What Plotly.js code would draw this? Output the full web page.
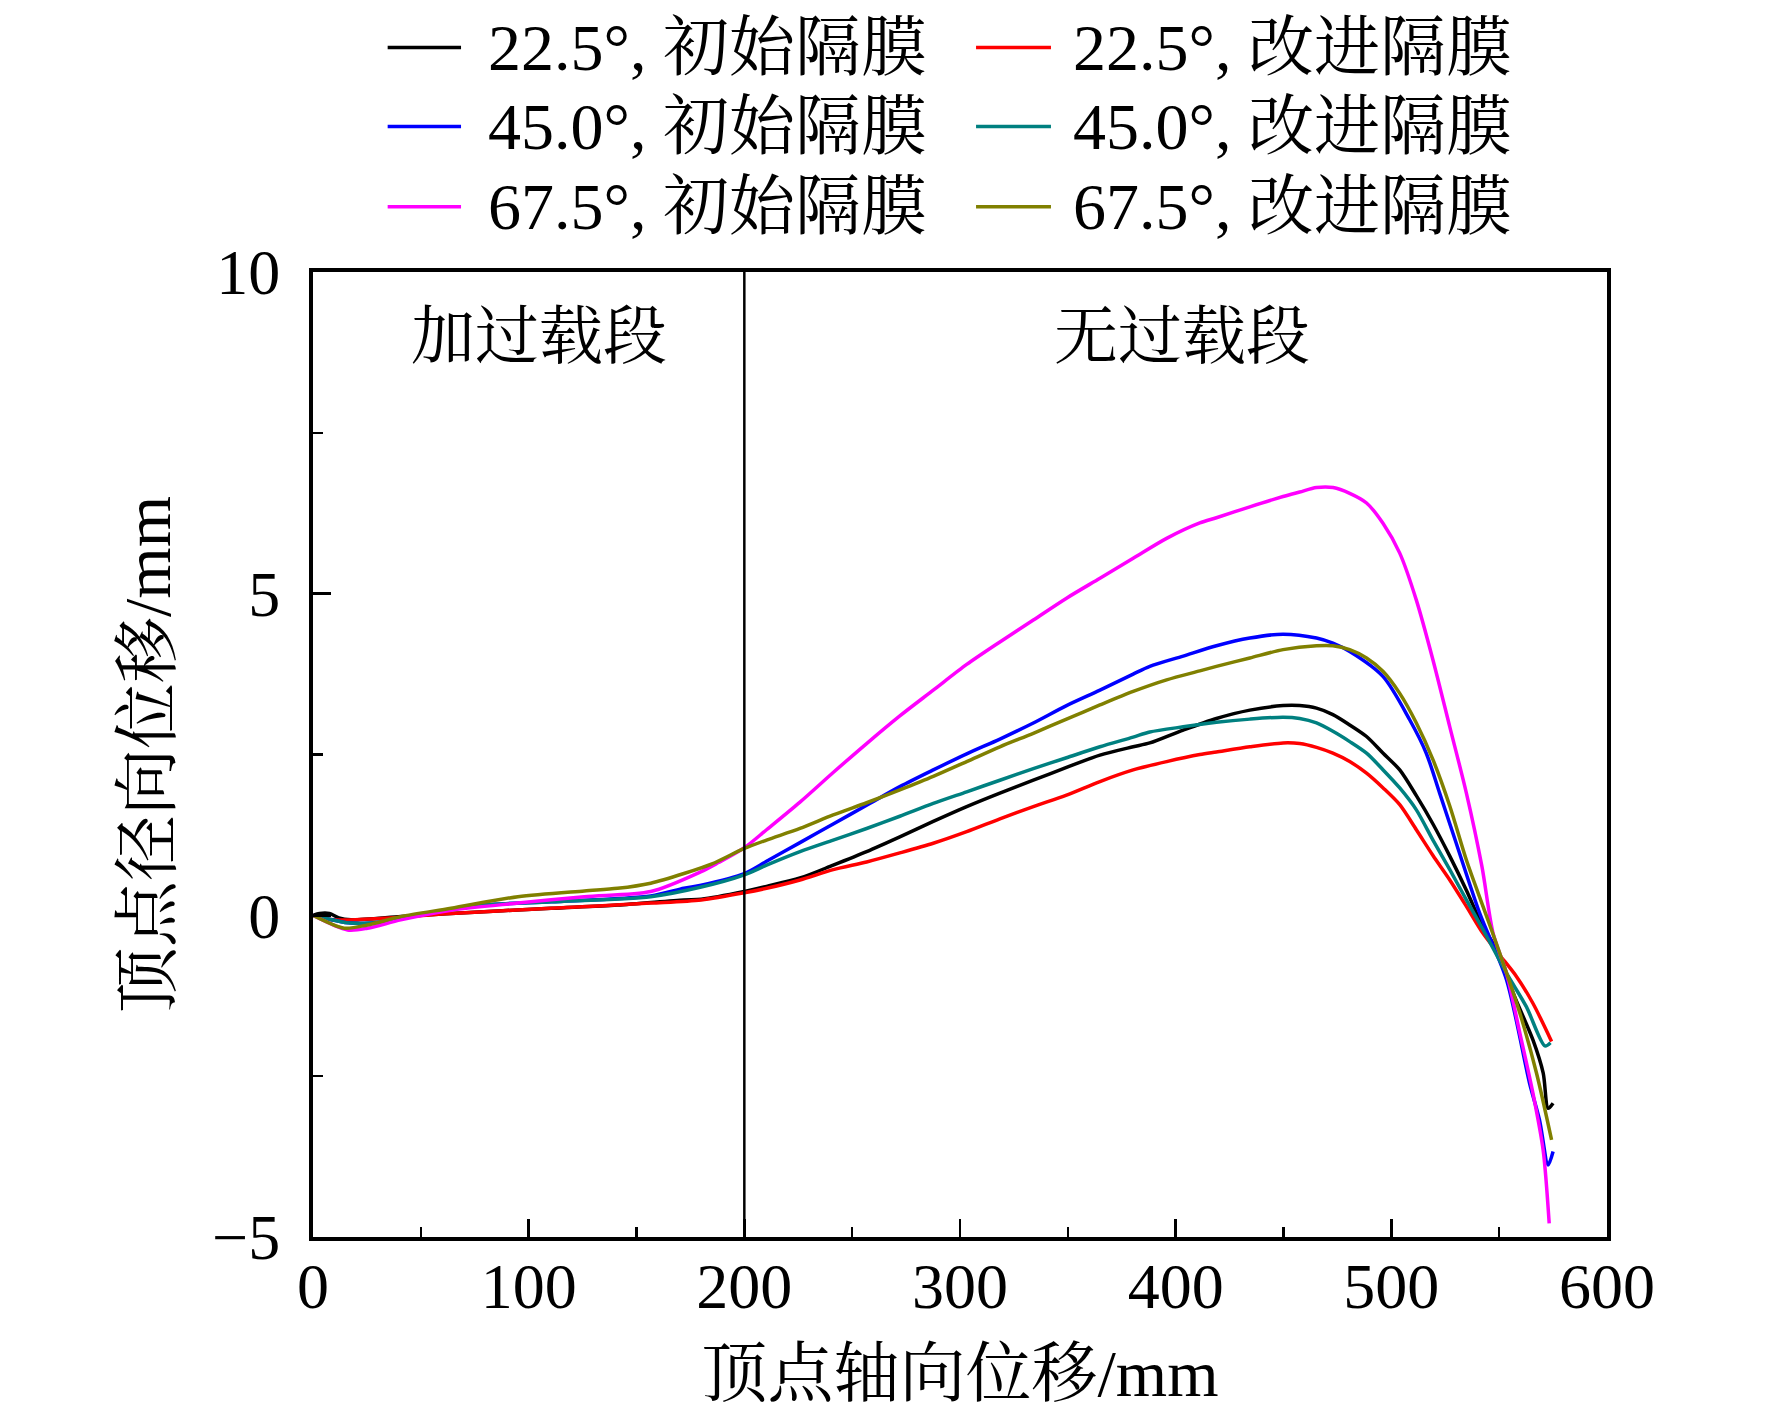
<!DOCTYPE html>
<html>
<head>
<meta charset="utf-8">
<script src="https://cdn.plot.ly/plotly-3.0.1.min.js"></script>
<style>html,body{margin:0;padding:0;background:#fff;}#chart{width:1772px;height:1420px;}</style>
</head>
<body>
<div id="chart"></div>
<script>
// ---- data ----
const seriesNames = ['22.5°, 初始隔膜','22.5°, 改进隔膜','45.0°, 初始隔膜','45.0°, 改进隔膜','67.5°, 初始隔膜','67.5°, 改进隔膜'];
const seriesColors = ['#000000','#ff0000','#0000ff','#008080','#ff00ff','#808000'];

const x_225_init = [0,3,7.6,12,17.6,40.7,64,110.4,141.2,172,180,200,210.3,225.8,241.2,256.7,272.1,287.6,303.1,318.5,334,349.4,364.9,380.3,388,403.5,418.9,434.4,449.8,457.5,465.3,472.9,480.7,488.5,496.2,503.9,511.6,519.3,527.1,534.8,542.5,550,556.5,565.7,570.4,572.7,575];
const y_225_init = [0,0.03,0.03,-0.04,-0.07,-0.02,0.03,0.11,0.16,0.24,0.25,0.37,0.45,0.58,0.78,0.99,1.22,1.46,1.69,1.90,2.10,2.30,2.49,2.62,2.68,2.88,3.06,3.19,3.26,3.26,3.22,3.12,2.96,2.78,2.52,2.26,1.86,1.42,0.92,0.39,-0.18,-0.6,-1.21,-1.94,-2.45,-3.00,-2.92];

const x_225_impr = [0,9.9,33,64,110.4,156.6,180,200,210.3,225.8,241.2,256.7,272.1,287.6,303.1,318.5,334,349.4,364.9,380.3,395.8,411.2,418.9,434.4,449.8,457.5,465.3,472.9,480.7,488.5,496.2,503.9,511.6,519.3,527.1,534.8,542.5,550.3,558,565.7,574.3];
const y_225_impr = [0,-0.07,-0.045,0.03,0.11,0.19,0.24,0.35,0.42,0.55,0.71,0.83,0.97,1.12,1.30,1.50,1.69,1.87,2.08,2.26,2.39,2.50,2.54,2.62,2.68,2.67,2.61,2.52,2.39,2.21,1.98,1.72,1.33,0.93,0.55,0.14,-0.28,-0.62,-0.95,-1.37,-1.96];

const x_450_init = [0,17.6,33,48.4,79.5,110.4,156.6,172,180,200,210.3,225.8,241.2,256.7,272.1,287.6,303.1,318.5,334,349.4,364.9,380.3,388,403.5,418.9,434.4,449.8,465.3,472.9,480.7,496.2,508.5,516.2,522.4,530.1,541,553.4,564.1,568.7,572.7,575];
const y_450_init = [0,-0.12,-0.10,0.006,0.16,0.21,0.30,0.42,0.47,0.65,0.84,1.13,1.42,1.71,2.00,2.26,2.51,2.74,2.99,3.26,3.50,3.75,3.87,4.03,4.19,4.31,4.37,4.31,4.23,4.10,3.71,3.04,2.52,1.90,1.12,0.03,-1.00,-2.61,-3.18,-3.88,-3.67];

const x_450_impr = [0,17.6,33,48.4,79.5,110.4,156.6,180,200,210.3,225.8,241.2,256.7,272.1,287.6,303.1,318.5,334,349.4,364.9,380.3,388,403.5,418.9,434.4,449.8,457.5,465.3,472.9,480.7,488.5,496.2,503.9,511.6,519.3,527.1,534.8,542.5,553.4,562.6,571.2,573.8];
const y_450_impr = [0,-0.12,-0.10,0.006,0.16,0.21,0.29,0.44,0.63,0.78,0.99,1.17,1.35,1.54,1.74,1.92,2.10,2.28,2.45,2.62,2.77,2.85,2.93,3.00,3.05,3.08,3.06,2.99,2.86,2.70,2.52,2.26,1.98,1.64,1.17,0.71,0.24,-0.22,-0.90,-1.42,-2.03,-1.98];

const x_675_init = [0,16,25.3,40.7,64,95,125.8,156.6,180,188,200,210.3,225.8,241.2,256.7,272.1,287.6,303.1,318.5,334,349.4,364.9,380.3,395.8,411.2,418.9,434.4,449.8,457.5,465.3,473,480.7,488.5,496.2,503.9,511.6,519.3,527.1,534.8,542,547.2,553.4,559.6,565.7,570.4,573.2];
const y_675_init = [0,-0.227,-0.20,-0.07,0.08,0.19,0.29,0.37,0.68,0.82,1.05,1.33,1.76,2.22,2.67,3.10,3.50,3.90,4.25,4.59,4.93,5.24,5.55,5.86,6.10,6.18,6.35,6.51,6.58,6.65,6.65,6.56,6.41,6.09,5.63,4.90,3.97,2.93,1.90,0.76,-0.28,-0.90,-1.83,-2.77,-3.65,-4.79];

const x_675_impr = [0,14.5,25.3,40.7,64,95,125.8,141.2,156.6,172,185,200,210.3,225.8,241.2,256.7,272.1,287.6,303.1,318.5,334,349.4,364.9,380.3,395.8,411.2,418.9,434.4,449.8,465.3,472.9,480.7,488.5,496.2,503.9,511.6,519.3,527.1,534.8,542.5,550.3,559.6,567.3,574.3];
const y_675_impr = [0,-0.20,-0.149,-0.02,0.11,0.29,0.38,0.42,0.50,0.65,0.80,1.04,1.17,1.35,1.56,1.75,1.95,2.16,2.39,2.62,2.83,3.05,3.27,3.48,3.66,3.80,3.87,4.00,4.13,4.19,4.19,4.13,4.00,3.79,3.45,2.99,2.42,1.70,0.86,0.14,-0.59,-1.52,-2.45,-3.49];

const xTitle = '顶点轴向位移/mm';
const yTitle = '顶点径向位移/mm';
const regionLabels = ['加过载段','无过载段'];
const regionLabelX = [105, 403];
const regionLabelY = 9;
const boundaryX = 200;

// ---- drawing ----
const FONT = '"Liberation Serif", "Times New Roman", "Noto Serif CJK SC", "Noto Sans CJK SC", serif';
const xs = [x_225_init, x_225_impr, x_450_init, x_450_impr, x_675_init, x_675_impr];
const ys = [y_225_init, y_225_impr, y_450_init, y_450_impr, y_675_init, y_675_impr];

const traces = xs.map((x, i) => ({
  type: 'scatter', mode: 'lines', x: x, y: ys[i], name: seriesNames[i],
  line: {color: seriesColors[i], width: 3.5, shape: 'spline', smoothing: 0.8},
  showlegend: false, hoverinfo: 'skip'
}));

// custom legend (2 columns x 3 rows) built from the names/colors arrays
const legCols = [{lx0: 0.0577, lx1: 0.1144, tx: 0.1337}, {lx0: 0.5124, lx1: 0.5703, tx: 0.5858}];
const legRows = [1.2326, 1.1507, 1.0676];
const shapes = [{
  type: 'line', xref: 'x', yref: 'paper', x0: boundaryX, x1: boundaryX, y0: 0, y1: 1,
  line: {color: '#000', width: 2.5}
}];
const annotations = [];
seriesNames.forEach((nm, i) => {
  const c = legCols[i % 2], r = legRows[Math.floor(i / 2)];
  shapes.push({type: 'line', xref: 'paper', yref: 'paper', x0: c.lx0, x1: c.lx1, y0: r, y1: r,
    line: {color: seriesColors[i], width: 3.5}});
  annotations.push({xref: 'paper', yref: 'paper', x: c.tx, y: r, text: nm, showarrow: false,
    xanchor: 'left', yanchor: 'middle', font: {family: FONT, size: 66, color: '#000'}});
});
regionLabels.forEach((t, i) => {
  annotations.push({xref: 'x', yref: 'y', x: regionLabelX[i], y: regionLabelY, text: t, showarrow: false,
    xanchor: 'center', yanchor: 'middle', font: {family: FONT, size: 64, color: '#000'}});
});

const axisCommon = {
  showline: true, linewidth: 4, linecolor: '#000', mirror: true,
  showgrid: false, zeroline: false,
  ticks: 'inside', ticklen: 18, tickwidth: 2.5, tickcolor: '#000',
  tickfont: {family: FONT, size: 64, color: '#000'},
  automargin: false
};

const layout = {
  width: 1772, height: 1420,
  margin: {l: 313, r: 165, t: 272, b: 183},
  paper_bgcolor: '#fff', plot_bgcolor: '#fff',
  showlegend: false,
  xaxis: Object.assign({}, axisCommon, {
    range: [0, 600], tick0: 0, dtick: 100,
    minor: {dtick: 50, ticks: 'inside', ticklen: 10, tickwidth: 2.5, tickcolor: '#000'},
    ticklabelstandoff: -10,
    title: {text: xTitle, font: {family: FONT, size: 66, color: '#000'}, standoff: 30}
  }),
  yaxis: Object.assign({}, axisCommon, {
    range: [-5, 10], tick0: 0, dtick: 5,
    minor: {dtick: 2.5, ticks: 'inside', ticklen: 10, tickwidth: 2.5, tickcolor: '#000'},
    ticklabelstandoff: 16,
    title: {text: yTitle, font: {family: FONT, size: 66, color: '#000'}, standoff: 21}
  }),
  shapes: shapes,
  annotations: annotations
};

Plotly.newPlot('chart', traces, layout, {staticPlot: true, displayModeBar: false});
</script>
</body>
</html>
